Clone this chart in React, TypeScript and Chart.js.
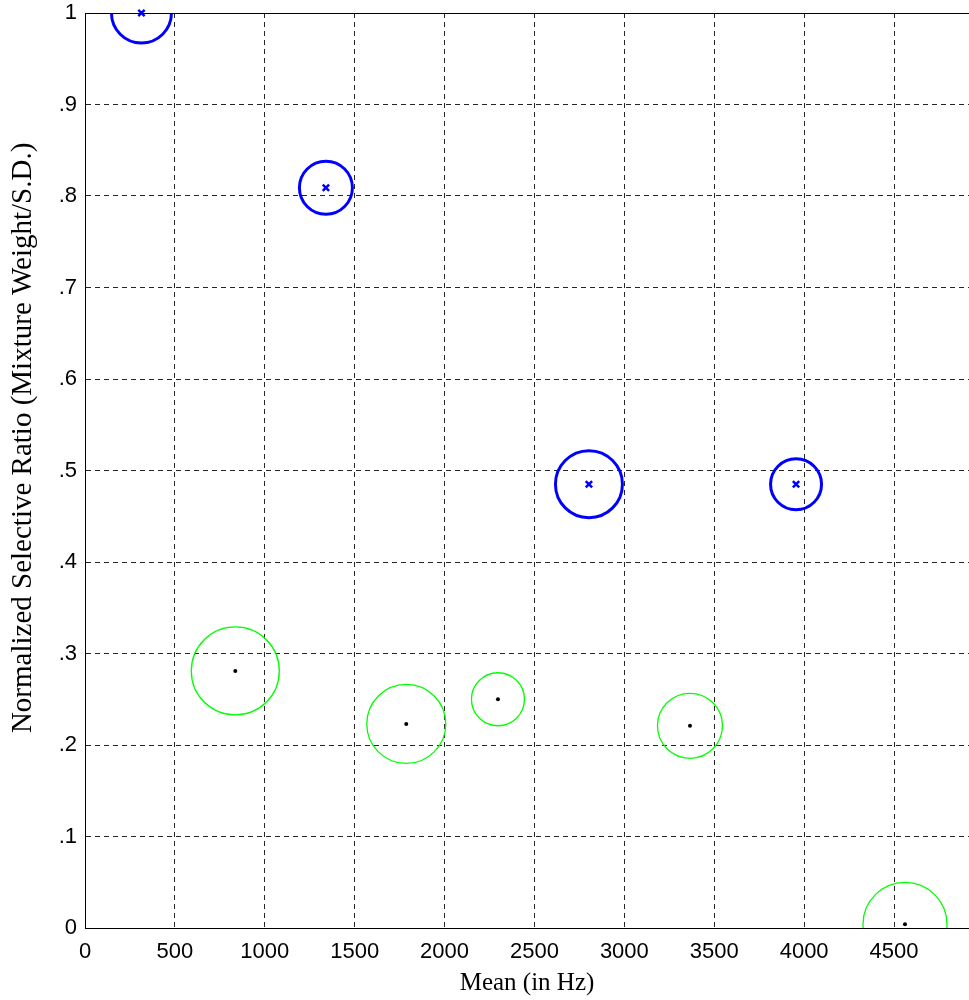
import React, { useEffect, useRef } from "react";
import { Chart, registerables } from "chart.js";

Chart.register(...registerables);

// Blue components (selected) — mean (Hz), normalized ratio, circle radius (px)
const blueX = [314, 1340, 2803, 3955];
const blueY = [1.0, 0.809, 0.485, 0.485];
const blueR = [30, 26.5, 33.5, 25.5];

// Green components — mean (Hz), normalized ratio, circle radius (px)
const greenX = [836, 1787, 2297, 3365, 4561];
const greenY = [0.281, 0.223, 0.25, 0.221, 0.004];
const greenR = [44, 39.5, 26.5, 32.5, 42];

const xTicks = [0, 500, 1000, 1500, 2000, 2500, 3000, 3500, 4000, 4500];
const yTicks = [0, 0.1, 0.2, 0.3, 0.4, 0.5, 0.6, 0.7, 0.8, 0.9, 1];
const yTickLabels = ["0", ".1", ".2", ".3", ".4", ".5", ".6", ".7", ".8", ".9", "1"];

const xMin = 0;
const xMax = 4917;
const yMin = 0;
const yMax = 1;

const xTitle = "Mean (in Hz)";
const yTitle = "Normalized Selective Ratio (Mixture Weight/S.D.)";

const SANS = "'Liberation Sans', Arial, Helvetica, sans-serif";
const SERIF = "'Liberation Serif', 'Times New Roman', Times, serif";

const topBorder = {
  id: "topBorder",
  afterDatasetsDraw(chart: any) {
    const { ctx, chartArea } = chart;
    ctx.save();
    ctx.strokeStyle = "#000";
    ctx.lineWidth = 1;
    ctx.beginPath();
    ctx.moveTo(chartArea.left, chartArea.top + 0.5);
    ctx.lineTo(chartArea.right, chartArea.top + 0.5);
    ctx.stroke();
    ctx.restore();
  },
};

export default function App() {
  const ref = useRef<HTMLCanvasElement | null>(null);

  useEffect(() => {
    if (!ref.current) return;
    const blueCircles = blueX.map((x, i) => ({ x, y: blueY[i], r: blueR[i] }));
    const greenCircles = greenX.map((x, i) => ({ x, y: greenY[i], r: greenR[i] }));
    const blueMarks = blueX.map((x, i) => ({ x, y: blueY[i] }));
    const greenMarks = greenX.map((x, i) => ({ x, y: greenY[i] }));

    const chart = new Chart(ref.current, {
      type: "bubble",
      data: {
        datasets: [
          {
            type: "bubble",
            data: greenCircles,
            borderColor: "#00FF00",
            backgroundColor: "rgba(0,0,0,0)",
            borderWidth: 1.3,
            clip: 0,
            order: 4,
          } as any,
          {
            type: "bubble",
            data: blueCircles,
            borderColor: "#0000FF",
            backgroundColor: "rgba(0,0,0,0)",
            borderWidth: 3,
            clip: 0,
            order: 3,
          } as any,
          {
            type: "scatter",
            data: greenMarks,
            pointStyle: "circle",
            pointRadius: 2,
            pointBackgroundColor: "#000",
            pointBorderWidth: 0,
            showLine: false,
            clip: false,
            order: 2,
          } as any,
          {
            type: "scatter",
            data: blueMarks,
            pointStyle: "crossRot",
            pointRadius: 4.5,
            pointBorderColor: "#0000FF",
            pointBorderWidth: 2.5,
            showLine: false,
            clip: false,
            order: 1,
          } as any,
        ],
      },
      options: {
        animation: false,
        responsive: false,
        maintainAspectRatio: false,
        events: [],
        layout: { autoPadding: false, padding: { top: 13, left: 0, right: 0, bottom: 0 } },
        plugins: {
          legend: { display: false },
          tooltip: { enabled: false },
          title: { display: false },
        },
        scales: {
          x: {
            type: "linear",
            position: "bottom",
            min: xMin,
            max: xMax,
            afterBuildTicks: (scale: any) => {
              scale.ticks = xTicks.map((v) => ({ value: v }));
            },
            afterFit: (scale: any) => {
              scale.height = 72;
              scale.paddingLeft = 0;
              scale.paddingRight = 0;
              scale.paddingTop = 0;
              scale.paddingBottom = 0;
            },
            grid: {
              display: true,
              color: "#262626",
              lineWidth: 1,
              drawTicks: false,
            },
            border: { display: true, color: "#000", width: 1, dash: [5, 4] },
            ticks: {
              color: "#000",
              font: { family: SANS, size: 22 },
              padding: 11,
              maxRotation: 0,
              autoSkip: false,
              callback: (v: any) => String(v),
            },
            title: {
              display: true,
              text: xTitle,
              color: "#000",
              font: { family: SERIF, size: 25 },
              padding: { top: 0, bottom: 2 },
            },
          },
          y: {
            type: "linear",
            position: "left",
            min: yMin,
            max: yMax,
            afterBuildTicks: (scale: any) => {
              scale.ticks = yTicks.map((v) => ({ value: v }));
            },
            afterFit: (scale: any) => {
              scale.width = 85;
              scale.paddingLeft = 0;
              scale.paddingRight = 0;
              scale.paddingTop = 0;
              scale.paddingBottom = 0;
            },
            grid: {
              display: true,
              color: "#262626",
              lineWidth: 1,
              drawTicks: false,
            },
            border: { display: true, color: "#000", width: 1, dash: [5, 4] },
            ticks: {
              color: "#000",
              font: { family: SANS, size: 22 },
              padding: 8,
              autoSkip: false,
              callback: (_v: any, i: number) => yTickLabels[i],
            },
            title: {
              display: true,
              text: "         " + yTitle,
              color: "#000",
              font: { family: SERIF, size: 29 },
              padding: { top: 6, bottom: 0 },
            },
          },
        },
      } as any,
      plugins: [topBorder],
    });
    return () => chart.destroy();
  }, []);

  return (
    <div style={{ position: "fixed", top: 0, left: 0, width: 969, height: 1000, background: "#fff" }}>
      <canvas ref={ref} width={969} height={1000} style={{ display: "block", width: 969, height: 1000 }} />
    </div>
  );
}
